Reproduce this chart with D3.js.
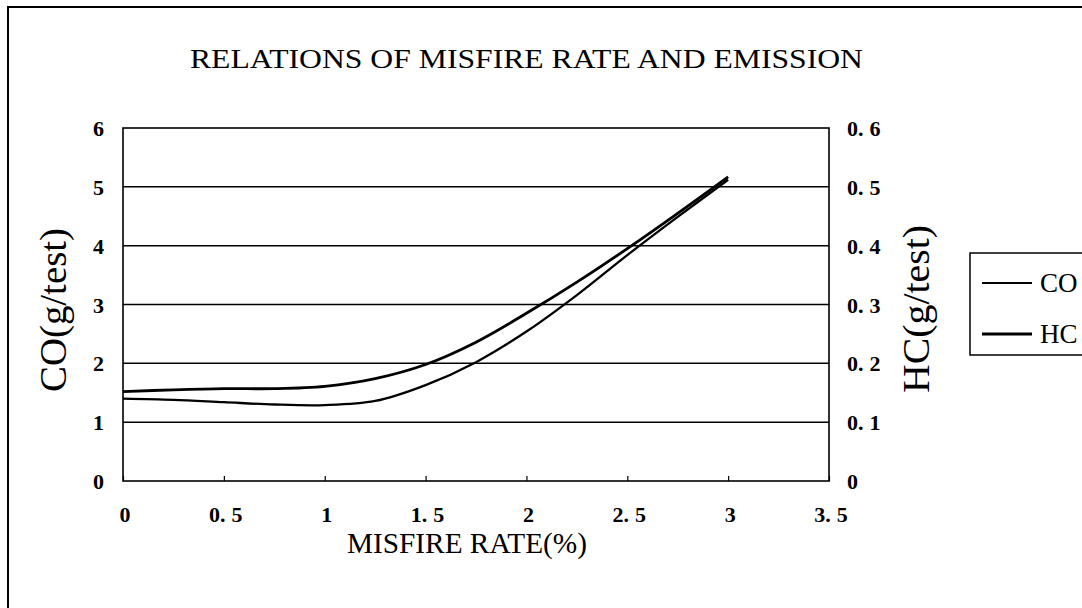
<!DOCTYPE html>
<html>
<head>
<meta charset="utf-8">
<script src="https://cdn.jsdelivr.net/npm/d3@7"></script>
<style>
  html, body { margin: 0; padding: 0; background: #fff; }
  svg { display: block; }
</style>
</head>
<body>
<svg id="chart" width="1082" height="608"></svg>
<script>
// Misfire rate (%) and measured emissions per test
const misfireRate = [0, 0.25, 0.5, 0.75, 1.0, 1.25, 1.5, 1.75, 2.0, 2.25, 2.5, 2.75, 3.0];
const coValues    = [1.40, 1.38, 1.34, 1.30, 1.29, 1.36, 1.63, 2.02, 2.54, 3.16, 3.84, 4.49, 5.12];
const hcValues    = [0.152, 0.155, 0.157, 0.157, 0.161, 0.174, 0.198, 0.236, 0.285, 0.338, 0.395, 0.455, 0.517];

const xTicks  = [0, 0.5, 1, 1.5, 2, 2.5, 3, 3.5];
const coTicks = [0, 1, 2, 3, 4, 5, 6];
const hcTicks = [0, 0.1, 0.2, 0.3, 0.4, 0.5, 0.6];

const seriesNames = ["CO", "HC"];

const svg = d3.select("#chart");
const plot = { left: 123, right: 829, top: 128, bottom: 481 };

const x  = d3.scaleLinear().domain([0, 3.5]).range([plot.left, plot.right]);
const yL = d3.scaleLinear().domain([0, 6]).range([plot.bottom, plot.top]);
const yR = d3.scaleLinear().domain([0, 0.6]).range([plot.bottom, plot.top]);

const serif = "'Liberation Serif', 'DejaVu Serif', serif";

const fmtNum = d => d === 0 ? "0" : (Number.isInteger(d) ? String(d) : d.toFixed(1));

// tick labels: the decimal digit is set a little apart from the point
function tickText(sel) {
  sel.attr("font-family", serif).attr("font-weight", "bold").attr("font-size", 22)
    .each(function(d) {
      const s = fmtNum(d);
      const t = d3.select(this);
      const k = s.indexOf(".");
      if (k < 0) { t.text(s); return; }
      t.append("tspan").text(s.slice(0, k + 1));
      t.append("tspan").attr("dx", 6).text(s.slice(k + 1));
    });
}

// outer frame (top and left edges)
svg.append("line").attr("x1", 8).attr("x2", 1082).attr("y1", 7).attr("y2", 7)
  .attr("stroke", "#000").attr("stroke-width", 2);
svg.append("line").attr("x1", 8).attr("x2", 8).attr("y1", 6).attr("y2", 608)
  .attr("stroke", "#000").attr("stroke-width", 2);

// title
svg.append("text")
  .attr("x", 190).attr("y", 68)
  .attr("font-family", serif).attr("font-size", 27)
  .attr("textLength", 673).attr("lengthAdjust", "spacingAndGlyphs")
  .text("RELATIONS OF MISFIRE RATE AND EMISSION");

// horizontal grid lines
svg.append("g").selectAll("line")
  .data(coTicks.filter(d => d > 0 && d < 6))
  .join("line")
  .attr("x1", plot.left).attr("x2", plot.right)
  .attr("y1", d => yL(d)).attr("y2", d => yL(d))
  .attr("stroke", "#000").attr("stroke-width", 1.5);

// bottom axis with short inward ticks
const xAxis = d3.axisBottom(x).tickValues(xTicks).tickSizeInner(-5).tickSizeOuter(0).tickFormat("");
svg.append("g").attr("transform", `translate(0,${plot.bottom})`).call(xAxis)
  .call(g => g.select(".domain").remove())
  .call(g => g.selectAll("line").attr("stroke", "#000").attr("stroke-width", 1.2));

// plot frame
svg.append("rect")
  .attr("x", plot.left).attr("y", plot.top)
  .attr("width", plot.right - plot.left).attr("height", plot.bottom - plot.top)
  .attr("fill", "none").attr("stroke", "#000").attr("stroke-width", 1.6);

// x tick labels
svg.append("g").selectAll("text")
  .data(xTicks).join("text")
  .attr("x", d => x(d) + 2).attr("y", 522)
  .attr("text-anchor", "middle")
  .call(tickText);

// left tick labels
svg.append("g").selectAll("text")
  .data(coTicks).join("text")
  .attr("x", 104).attr("y", d => yL(d) + 8)
  .attr("text-anchor", "end")
  .call(tickText);

// right tick labels
svg.append("g").selectAll("text")
  .data(hcTicks).join("text")
  .attr("x", 847).attr("y", d => yR(d) + 8)
  .attr("text-anchor", "start")
  .call(tickText);

// axis titles
svg.append("text")
  .attr("x", 347).attr("y", 553)
  .attr("font-family", serif).attr("font-size", 29)
  .attr("textLength", 240).attr("lengthAdjust", "spacingAndGlyphs")
  .text("MISFIRE RATE(%)");

svg.append("text")
  .attr("transform", "translate(66,392) rotate(-90)")
  .attr("font-family", serif).attr("font-size", 37)
  .attr("textLength", 164).attr("lengthAdjust", "spacingAndGlyphs")
  .text("CO(g/test)");

svg.append("text")
  .attr("transform", "translate(929,393) rotate(-90)")
  .attr("font-family", serif).attr("font-size", 37)
  .attr("textLength", 168).attr("lengthAdjust", "spacingAndGlyphs")
  .text("HC(g/test)");

// curves
const coLine = d3.line()
  .x((d, i) => x(misfireRate[i])).y(d => yL(d))
  .curve(d3.curveCatmullRom.alpha(0.5));
const hcLine = d3.line()
  .x((d, i) => x(misfireRate[i])).y(d => yR(d))
  .curve(d3.curveCatmullRom.alpha(0.5));

svg.append("path").datum(coValues)
  .attr("d", coLine).attr("fill", "none")
  .attr("stroke", "#000").attr("stroke-width", 2.3).attr("stroke-linejoin", "round");
svg.append("path").datum(hcValues)
  .attr("d", hcLine).attr("fill", "none")
  .attr("stroke", "#000").attr("stroke-width", 2.8).attr("stroke-linejoin", "round");

// legend
const legend = svg.append("g");
legend.append("rect")
  .attr("x", 970).attr("y", 253).attr("width", 130).attr("height", 102)
  .attr("fill", "#fff").attr("stroke", "#000").attr("stroke-width", 1.5);
const legendWidths = { CO: 2, HC: 3 };
seriesNames.forEach((name, i) => {
  const cy = 283 + i * 51;
  legend.append("line")
    .attr("x1", 982).attr("x2", 1032).attr("y1", cy).attr("y2", cy)
    .attr("stroke", "#000").attr("stroke-width", legendWidths[name]);
  legend.append("text")
    .attr("x", 1040).attr("y", cy + 9)
    .attr("font-family", serif).attr("font-size", 27)
    .text(name);
});
</script>
</body>
</html>
